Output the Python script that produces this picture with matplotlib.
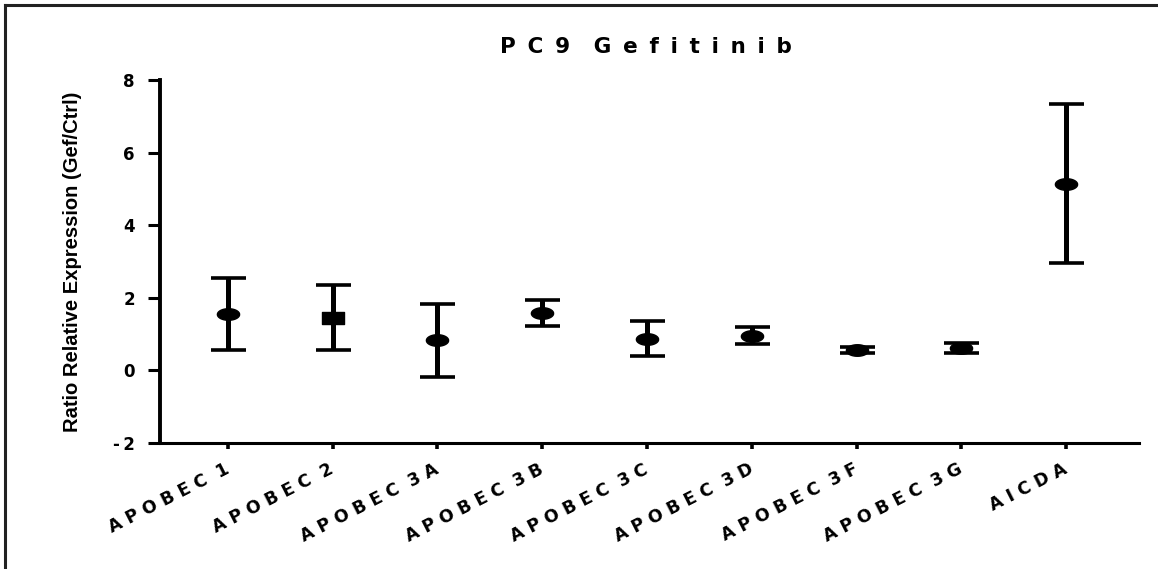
import matplotlib
matplotlib.use("Agg")
import matplotlib.pyplot as plt
from matplotlib.path import Path
from matplotlib.lines import Line2D
import numpy as np

# data
genes = ["APOBEC 1", "APOBEC 2", "APOBEC 3A", "APOBEC 3B", "APOBEC 3C",
         "APOBEC 3D", "APOBEC 3F", "APOBEC 3G", "AICDA"]
mean = [1.55, 1.43, 0.83, 1.58, 0.87, 0.95, 0.55, 0.62, 5.14]
upper = [2.53, 2.35, 1.82, 1.93, 1.35, 1.18, 0.64, 0.75, 7.35]
lower = [0.55, 0.55, -0.18, 1.22, 0.38, 0.71, 0.48, 0.48, 2.95]
yticks = [-2, 0, 2, 4, 6, 8]

# wide markers (the original plot is stretched sideways)
t = np.linspace(0, 2 * np.pi, 60)
ellipse = Path(np.column_stack([np.cos(t), 0.52 * np.sin(t)]))
rect = Path([(-1, -0.55), (1, -0.55), (1, 0.55), (-1, 0.55), (-1, -0.55)],
            [Path.MOVETO, Path.LINETO, Path.LINETO, Path.LINETO, Path.CLOSEPOLY])


def spaced(s, gap=" "):
    # letter spacing; a word gap becomes two gaps
    return (gap * 2).join(gap.join(w) for w in s.split(" "))


fig = plt.figure(figsize=(11.58, 5.69), dpi=100)
ax = fig.add_axes([0.138, 0.222, 0.846, 0.637])

x = np.arange(1, len(genes) + 1)
for i in range(len(genes)):
    m = rect if genes[i] == "APOBEC 2" else ellipse
    ax.errorbar(x[i], mean[i],
                yerr=[[mean[i] - lower[i]], [upper[i] - mean[i]]],
                fmt="none", ecolor="black", elinewidth=3.6,
                capsize=12.6, capthick=2.6)
    ax.plot(x[i], mean[i], marker=m, markersize=16, color="black",
            linestyle="none")

ax.set_xlim(0.35, 9.70)
ax.set_ylim(-2, 8)
ax.set_yticks(yticks)
ax.set_yticklabels([spaced(str(v), "\u2009") for v in yticks],
                   fontsize=12, fontweight="bold", family="DejaVu Sans")
ax.set_xticks(x)
ax.set_xticklabels([spaced(g) for g in genes], rotation=27, ha="right",
                   rotation_mode="anchor", va="center",
                   fontsize=12.5, fontweight="bold", family="DejaVu Sans")

for s in ["top", "right"]:
    ax.spines[s].set_visible(False)
ax.spines["left"].set_linewidth(2.8)
ax.spines["bottom"].set_linewidth(2.2)
ax.tick_params(axis="y", direction="out", length=8.5, width=2.2, pad=9.5)
ax.tick_params(axis="x", direction="out", length=4.5, width=2.6, pad=14)

ax.set_ylabel("Ratio Relative Expression (Gef/Ctrl)", fontsize=14.5,
              fontweight="bold",
              family=["Liberation Sans Narrow", "Liberation Sans"],
              labelpad=22)
fig.text(0.558, 0.918, spaced("PC9 Gefitinib", " \u2009"), ha="center",
         va="center", fontsize=15.5, fontweight="bold", family="DejaVu Sans")

# frame lines at top and left of the picture
fig.add_artist(Line2D([0.0045, 1.0], [0.9912, 0.9912], color="#222222",
                      linewidth=2.2, transform=fig.transFigure))
fig.add_artist(Line2D([0.0045, 0.0045], [0.0, 0.9912], color="#222222",
                      linewidth=2.2, transform=fig.transFigure))

fig.savefig("out.png", dpi=100)
